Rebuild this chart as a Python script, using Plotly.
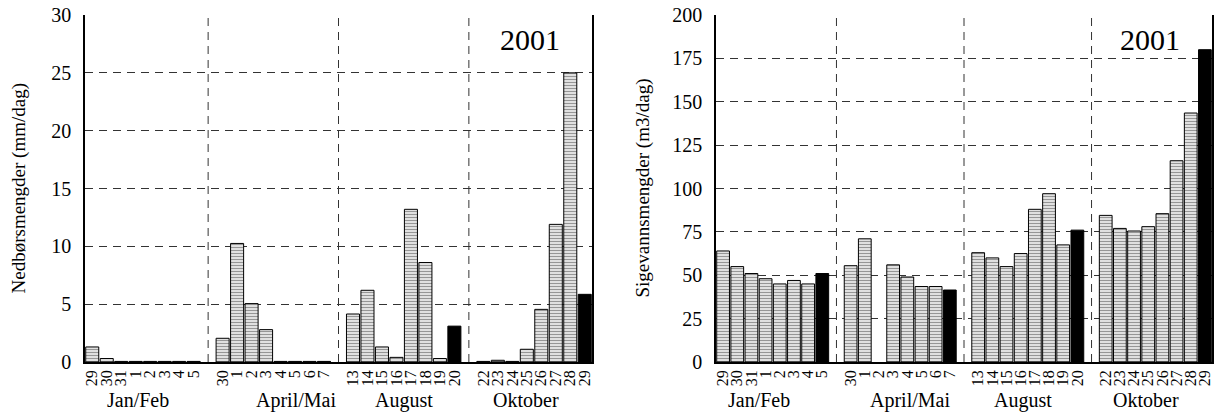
import plotly.graph_objects as go

W, H = 1218, 412

months = ["Jan/Feb", "April/Mai", "August", "Oktober"]
day_labels = [
    ["29", "30", "31", "1", "2", "3", "4", "5"],
    ["30", "1", "2", "3", "4", "5", "6", "7"],
    ["13", "14", "15", "16", "17", "18", "19", "20"],
    ["22", "23", "24", "25", "26", "27", "28", "29"],
]

# Nedbørsmengder (mm/dag)
precip = [
    [1.3, 0.3, 0.05, 0.05, 0.05, 0.05, 0.05, 0.05],
    [2.05, 10.25, 5.05, 2.8, 0.05, 0.05, 0.05, 0.05],
    [4.15, 6.2, 1.3, 0.4, 13.2, 8.6, 0.3, 3.1],
    [0.05, 0.15, 0.05, 1.1, 4.55, 11.9, 25.0, 5.85],
]

# Sigevannsmengder (m3/dag)
leachate = [
    [64, 55, 51, 48, 45, 47, 45, 51],
    [55.5, 71, None, 56, 49, 43.5, 43.5, 41.5],
    [63, 60, 55, 62.5, 88, 97, 67.5, 76],
    [84.5, 77, 75.5, 78, 85.5, 116, 143.5, 180],
]

year_label = "2001"
y_titles = ["Nedbørsmengder (mm/dag)", "Sigevannsmengder (m3/dag)"]
y_ranges = [[0, 30], [0, 200]]
y_dticks = [5, 25]

SERIF = "Liberation Serif, Times New Roman, serif"
n_per = len(day_labels[0])
slot = n_per + 1

xs, texts = [], []
for gi, labs in enumerate(day_labels):
    for i, lab in enumerate(labs):
        xs.append(gi * slot + i)
        texts.append(lab)

def flat(groups):
    return [v for g in groups for v in g]

last_flags = [i == n_per - 1 for g in day_labels for i in range(len(g))]
colors = ["black" if f else "#e8e8e8" for f in last_flags]
shapes_p = ["" if f else "-" for f in last_flags]

# pixel geometry
px_left = [(85, 592), (716, 1212)]
py_top, py_bot = 15, 362

fig = go.Figure()
datasets = [precip, leachate]
for k in range(2):
    xa = "x" if k == 0 else "x2"
    ya = "y" if k == 0 else "y2"
    fig.add_trace(go.Bar(
        x=xs, y=flat(datasets[k]), xaxis=xa, yaxis=ya,
        marker=dict(color=colors, line=dict(color="black", width=1),
                    pattern=dict(shape=shapes_p, fgcolor="#555", bgcolor=colors,
                                 size=3, solidity=0.4, fillmode="overlay")),
        showlegend=False,
    ))

ydom = [(H - py_bot) / H, (H - py_top) / H]
layout = dict(
    width=W, height=H, margin=dict(l=0, r=0, t=0, b=0),
    paper_bgcolor="white", plot_bgcolor="white",
    bargap=0.1, font=dict(family=SERIF, color="black"),
    showlegend=False,
)
total = len(day_labels) * slot - 1
for k in range(2):
    sfx = "" if k == 0 else "2"
    l, r = px_left[k]
    layout["xaxis" + sfx] = dict(
        domain=[l / W, r / W], range=[-0.5, total - 0.5], anchor="y" + sfx,
        tickmode="array", tickvals=xs, ticktext=texts, tickangle=-90,
        tickfont=dict(size=16, family=SERIF), ticks="", showgrid=False,
        showline=True, linecolor="black", linewidth=1.5, zeroline=False,
        automargin=False, fixedrange=True,
    )
    layout["yaxis" + sfx] = dict(
        domain=ydom, range=y_ranges[k], anchor="x" + sfx, dtick=y_dticks[k],
        tickfont=dict(size=20, family=SERIF), ticks="", ticklabelstandoff=8,
        showgrid=True, gridcolor="#333", griddash="8px,6px", gridwidth=1,
        showline=True, linecolor="black", linewidth=1.5, mirror=True,
        zeroline=False, automargin=False, fixedrange=True,
    )
fig.update_layout(**layout)

shapes = []
annotations = []
for k in range(2):
    xa = "x" if k == 0 else "x2"
    ya_dom = "y domain" if k == 0 else "y2 domain"
    for gi in range(1, len(day_labels)):
        sep = gi * slot - 1
        shapes.append(dict(type="line", xref=xa, yref=ya_dom, x0=sep, x1=sep, y0=0, y1=1,
                           line=dict(color="#333", width=1, dash="8px,6px"), layer="above"))

# month labels (pixel centres)
month_px = [[137.5, 296, 404, 526], [759, 910, 1023, 1146]]
for k in range(2):
    for m, cx in zip(months, month_px[k]):
        annotations.append(dict(text=m, x=cx / W, y=(H - 400) / H, xref="paper", yref="paper",
                                showarrow=False, font=dict(size=20, family=SERIF),
                                xanchor="center", yanchor="middle"))
# year labels
for cx in [530, 1150]:
    annotations.append(dict(text=year_label, x=cx / W, y=(H - 40) / H, xref="paper", yref="paper",
                            showarrow=False, font=dict(size=30, family=SERIF),
                            xanchor="center", yanchor="middle"))
# y titles
for k, cx in enumerate([19, 643]):
    annotations.append(dict(text=y_titles[k], x=cx / W, y=(H - (py_top + py_bot) / 2) / H,
                            xref="paper", yref="paper", textangle=-90, showarrow=False,
                            font=dict(size=19, family=SERIF), xanchor="center", yanchor="middle"))

fig.update_layout(shapes=shapes, annotations=annotations)
fig.write_html(
    "out.html",
    config={"displayModeBar": False},
    post_script="document.body.style.margin='0';document.body.style.overflow='hidden';",
)
